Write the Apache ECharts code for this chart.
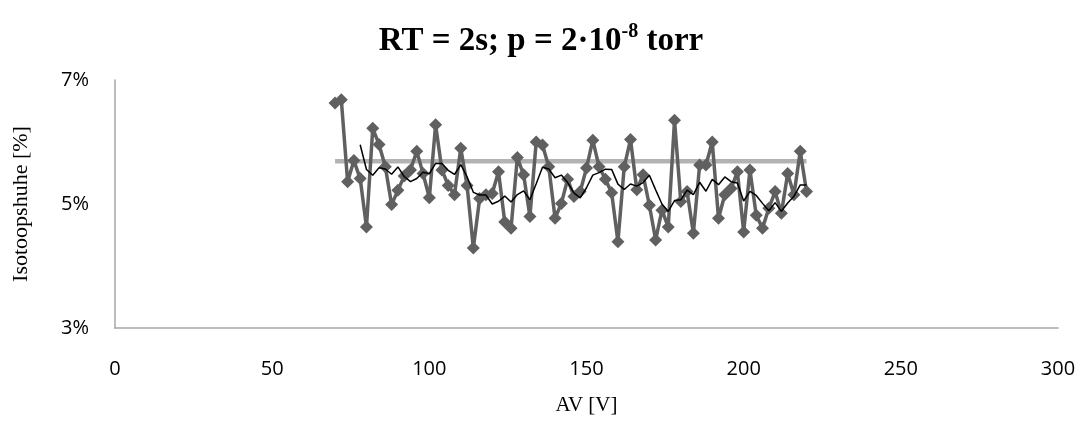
<!DOCTYPE html>
<html>
<head>
<meta charset="utf-8">
<script src="https://cdn.jsdelivr.net/npm/echarts@6/dist/echarts.min.js"></script>
<style>
html,body{margin:0;padding:0;background:#fff;}
#chart{width:1082px;height:437px;}
</style>
</head>
<body>
<div id="chart"></div>
<script>
// AV [V] values (x)
const avValues = [70,72,74,76,78,80,82,84,86,88,90,92,94,96,98,100,102,104,106,108,110,112,114,116,118,120,122,124,126,128,130,132,134,136,138,140,142,144,146,148,150,152,154,156,158,160,162,164,166,168,170,172,174,176,178,180,182,184,186,188,190,192,194,196,198,200,202,204,206,208,210,212,214,216,218,220];
// Isotope ratio [%]
const isotopeValues = [6.63,6.68,5.36,5.70,5.41,4.63,6.22,5.96,5.60,4.99,5.22,5.45,5.55,5.85,5.49,5.10,6.28,5.55,5.30,5.15,5.90,5.30,4.29,5.09,5.15,5.17,5.52,4.71,4.61,5.75,5.47,4.80,6.00,5.95,5.60,4.77,5.01,5.40,5.12,5.20,5.58,6.03,5.60,5.40,5.18,4.39,5.60,6.04,5.23,5.47,4.98,4.42,4.90,4.63,6.35,5.04,5.20,4.53,5.63,5.63,6.00,4.77,5.15,5.25,5.52,4.55,5.55,4.82,4.61,4.93,5.20,4.85,5.49,5.15,5.85,5.20];
// Moving average trendline (period 5), starting at AV = 78
const movingAvgX = [78,80,82,84,86,88,90,92,94,96,98,100,102,104,106,108,110,112,114,116,118,120,122,124,126,128,130,132,134,136,138,140,142,144,146,148,150,152,154,156,158,160,162,164,166,168,170,172,174,176,178,180,182,184,186,188,190,192,194,196,198,200,202,204,206,208,210,212,214,216,218,220];
const movingAvgValues = [5.956,5.556,5.464,5.584,5.564,5.48,5.598,5.444,5.362,5.412,5.512,5.488,5.654,5.654,5.544,5.476,5.636,5.44,5.188,5.146,5.146,5.00,5.044,5.128,5.032,5.152,5.212,5.068,5.326,5.594,5.564,5.424,5.466,5.346,5.18,5.10,5.262,5.466,5.506,5.562,5.558,5.32,5.234,5.322,5.288,5.346,5.464,5.228,5.00,4.88,5.056,5.068,5.224,5.15,5.35,5.206,5.398,5.312,5.436,5.36,5.338,5.048,5.204,5.138,5.01,4.892,5.022,4.882,5.016,5.124,5.308,5.308];
// Reference level line
const referenceX = [70, 220];
const referenceValues = [5.69, 5.69];
// Axis ticks
const xTicks = [0, 50, 100, 150, 200, 250, 300];
const yTicks = [3, 5, 7];

const chart = echarts.init(document.getElementById('chart'), null, {renderer: 'canvas'});
const zip = (xs, ys) => xs.map((x, i) => [x, ys[i]]);

chart.setOption({
  animation: false,
  backgroundColor: '#ffffff',
  title: {
    text: '{m|RT = 2s; p = 2·10}{s|-8}{m| torr}',
    left: 'center',
    top: 17,
    textStyle: {
      rich: {
        m: {fontFamily: 'Liberation Serif', fontWeight: 'bold', fontSize: 33, color: '#000', verticalAlign: 'bottom', lineHeight: 36},
        s: {fontFamily: 'Liberation Serif', fontWeight: 'bold', fontSize: 20, color: '#000', verticalAlign: 'top', lineHeight: 36, padding: [0, 0, 13, 0]}
      }
    }
  },
  grid: {left: 115, right: 24, top: 80, bottom: 109, containLabel: false},
  xAxis: {
    type: 'value',
    min: xTicks[0],
    max: xTicks[xTicks.length - 1],
    interval: 50,
    name: 'AV [V]',
    nameLocation: 'middle',
    nameGap: 67,
    nameTextStyle: {fontFamily: 'Liberation Serif', fontSize: 21, color: '#000'},
    axisLine: {show: true, lineStyle: {color: '#a6a6a6', width: 1.5}},
    axisTick: {show: false},
    splitLine: {show: false},
    axisLabel: {fontFamily: 'Open Sans', fontSize: 20, color: '#000', margin: 31}
  },
  yAxis: {
    type: 'value',
    min: yTicks[0],
    max: yTicks[yTicks.length - 1],
    interval: 2,
    name: 'Isotoopshuhe [%]',
    nameLocation: 'middle',
    nameGap: 83,
    nameRotate: 90,
    nameTextStyle: {fontFamily: 'Liberation Serif', fontSize: 22, color: '#000'},
    axisLine: {show: true, lineStyle: {color: '#a6a6a6', width: 1.5}},
    axisTick: {show: false},
    splitLine: {show: false},
    axisLabel: {fontFamily: 'Open Sans', fontSize: 20, color: '#000', margin: 26, formatter: v => v + '%'}
  },
  series: [
    {
      name: 'Reference',
      type: 'line',
      data: zip(referenceX, referenceValues),
      symbol: 'none',
      lineStyle: {color: '#b3b3b3', width: 4.5},
      z: 1
    },
    {
      name: 'Isotope',
      type: 'line',
      data: zip(avValues, isotopeValues),
      symbol: 'diamond',
      symbolSize: 13,
      itemStyle: {color: '#606060'},
      lineStyle: {color: '#606060', width: 3.5},
      z: 2
    },
    {
      name: 'Moving average',
      type: 'line',
      data: zip(movingAvgX, movingAvgValues),
      symbol: 'none',
      lineStyle: {color: '#000000', width: 1.5},
      z: 3
    }
  ]
});
</script>
</body>
</html>
